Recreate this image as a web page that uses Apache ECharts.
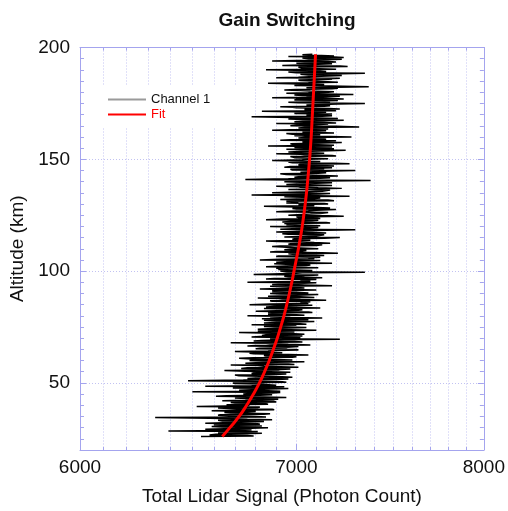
<!DOCTYPE html>
<html>
<head>
<meta charset="utf-8">
<script src="https://cdn.jsdelivr.net/npm/echarts@6/dist/echarts.min.js"></script>
<style>
  html, body { margin: 0; padding: 0; background: #fff; }
  #chart { width: 508px; height: 511px; }
</style>
</head>
<body>
<div id="chart"></div>
<script>
"use strict";

// Channel 1 photon counts, one sample every 0.25 km from 26 km,
// kept as two interleaved lists: samples on the half km and on the quarter km
var altitudeStart = 26;
var altitudeStep = 0.25;
var channel1Half = [
  6540, 6760, 6610, 6830, 6700, 6390, 6780, 6650, 6860, 6590,
  6700, 6820, 6560, 6770, 6640, 6880, 6690, 6330, 6800, 6620,
  6840, 6680, 6760, 6590, 6890, 6710, 6810, 6520, 6770, 6860,
  6700, 6900, 6640, 6830, 6760, 6950, 6610, 6820, 6740, 6880,
  6500, 6860, 6720, 6960, 6780, 6560, 6900, 6810, 6690, 6930,
  6480, 6900, 6760, 6980, 6820, 6700, 6950, 6790, 6870, 6650,
  6920, 6730, 7010, 6840, 6680, 6960, 6800, 7040, 6770, 6890,
  6720, 6980, 6850, 7060, 6790, 6930, 6700, 6900, 7000, 6820,
  6960, 6760, 7070, 6870, 6680, 6990, 6830, 7220, 6910, 6780,
  7030, 6850, 6990, 6720, 6950, 7100, 6810, 6920, 7050, 6880,
  6780, 7020, 6900, 7090, 6840, 6970, 7130, 6870, 6760, 7000,
  6900, 7080, 6800, 7010, 6950, 7120, 6850, 6990, 6770, 7060,
  7040, 6880, 7150, 6930, 6810, 7020, 6960, 7110, 6870, 7000,
  6900, 7100, 6820, 7040, 6950, 7180, 6880, 7010, 6760, 7070,
  7020, 6850, 7130, 6960, 7060, 6790, 7000, 7350, 6920, 7080,
  6930, 7110, 6850, 7050, 6980, 7180, 6900, 7040, 6820, 7090,
  7060, 6900, 7140, 6980, 7210, 6870, 7030, 6940, 7110, 6990,
  6880, 7100, 6960, 7170, 7020, 6850, 7080, 6990, 7220, 6940,
  7090, 6960, 7150, 6900, 7060, 7300, 6980, 7110, 6870, 7040,
  6990, 7170, 6930, 7080, 6850, 7120, 7010, 7240, 6960, 7070,
  7130, 6900, 7060, 7200, 6980, 7100, 6840, 7050, 7160, 6950,
  7010, 7190, 6920, 7090, 7030, 7270, 6780, 7120, 6880, 7060,
  7140, 6960, 7230, 7020, 6900, 7100, 7000, 7180, 6940, 7380,
  6750, 7120, 6990, 7210, 7040, 6920, 7150, 7020, 7300, 6970,
  7100, 6940, 7190, 7010, 7270, 6980, 7120, 6880, 7060, 7160,
  6990, 7200, 7040, 6900, 7130, 7020, 7250, 6950, 7090, 7180,
  6860, 7110, 6970, 7230, 7050, 6920, 7150, 7010, 7280, 6990,
  7120, 6950, 7200, 7040, 6880, 7160, 7010, 7320, 6970, 7090,
  6900, 7140, 7030, 7240, 6960, 7100, 6780, 7180, 7050, 6990,
  7150, 6830, 7080, 7220, 7000, 6920, 7170, 7060, 7350, 6960,
  7110, 6990, 7240, 6880, 7130, 7030, 7290, 6950, 7160, 7070,
  6940, 7180, 7050, 7370, 6990, 7140, 6860, 7210, 7080, 7010,
  7160, 6900, 7090, 7230, 7020, 7350, 6960, 7120, 6850, 7200,
  7040, 7260, 6930, 7110, 7000, 7200, 6880, 7150, 7060, 7240,
  6960, 7180, 7080
];
var channel1Quarter = [
  6790, 6580, 6740, 6620, 6810, 6690, 6560, 6780, 6640, 6830,
  6600, 6810, 6690, 6840, 6620, 6760, 6580, 6850, 6700, 6630,
  6870, 6650, 6800, 6700, 6880, 6620, 6820, 6730, 6660, 6850,
  6680, 6890, 6750, 6910, 6700, 6840, 6660, 6880, 6770, 6920,
  6920, 6720, 6870, 6690, 6940, 6780, 6900, 6700, 6950, 6760,
  6740, 6960, 6800, 6930, 6720, 6890, 6780, 6970, 6750, 6910,
  6970, 6760, 6920, 6810, 6990, 6750, 6900, 6830, 6980, 6780,
  6790, 7000, 6840, 6960, 6770, 6930, 6860, 7010, 6800, 6950,
  7010, 6800, 6960, 6850, 7030, 6790, 6940, 6870, 7020, 6820,
  6830, 7040, 6880, 6990, 6810, 6970, 6860, 7050, 6840, 7000,
  7050, 6840, 6990, 6880, 7060, 6830, 6970, 6890, 7040, 6860,
  6860, 7060, 6900, 7030, 6840, 7000, 6910, 7080, 6870, 7020,
  7070, 6870, 7020, 6910, 7090, 6860, 7000, 6920, 7060, 6880,
  6880, 7090, 6930, 7050, 6870, 7030, 6940, 7100, 6900, 7060,
  7100, 6890, 7040, 6940, 7110, 6880, 7030, 6950, 7080, 6910,
  6900, 7110, 6950, 7070, 6890, 7050, 6960, 7120, 6920, 7080,
  7120, 6910, 7060, 6960, 7130, 6900, 7050, 6970, 7100, 6930,
  6920, 7130, 6970, 7090, 6910, 7070, 6980, 7140, 6940, 7100,
  7140, 6930, 7080, 6980, 7150, 6920, 7070, 6990, 7120, 6950,
  6940, 7150, 6990, 7110, 6930, 7090, 7000, 7160, 6960, 7120,
  7160, 6950, 7100, 7000, 7170, 6940, 7090, 7010, 7140, 6970,
  6950, 7160, 7000, 7120, 6940, 7100, 7010, 7170, 6970, 7130,
  7170, 6960, 7110, 7010, 7180, 6950, 7100, 7020, 7150, 6980,
  6960, 7170, 7010, 7130, 6950, 7110, 7020, 7180, 6980, 7140,
  7180, 6970, 7120, 7020, 7190, 6960, 7110, 7030, 7160, 6990,
  6970, 7180, 7020, 7140, 6960, 7120, 7030, 7190, 6990, 7150,
  7190, 6980, 7130, 7030, 7200, 6970, 7120, 7040, 7170, 7000,
  6980, 7190, 7030, 7150, 6970, 7130, 7040, 7200, 7000, 7160,
  7200, 6990, 7140, 7040, 7210, 6980, 7130, 7050, 7180, 7010,
  6990, 7200, 7040, 7160, 6980, 7140, 7050, 7210, 7010, 7170,
  7210, 7000, 7150, 7050, 7220, 6990, 7140, 7060, 7190, 7020,
  7000, 7210, 7050, 7170, 6990, 7150, 7060, 7220, 7020, 7180,
  7220, 7010, 7160, 7060, 7230, 7000, 7150, 7070, 7200, 7030,
  7010, 7220, 7060, 7180, 7000, 7160, 7070, 7230, 7030, 7190,
  7190, 7030
];

// Fit curve
var fitAltitude = [26, 30, 35, 40, 45, 50, 55, 60, 65, 70, 75, 80, 85, 90, 95,
  100, 105, 110, 115, 120, 130, 140, 150, 160, 170, 180, 190, 197];
var fitSignal = [6640, 6676, 6720, 6756, 6789, 6818, 6843, 6866, 6886, 6905, 6922,
  6938, 6952, 6965, 6977, 6988, 6999, 7010, 7020, 7029, 7044, 7056, 7066, 7074,
  7080, 7086, 7092, 7096];

// ticks
var xMajorTicks = [6000, 7000, 8000];
var xMinorTicks = [6100, 6200, 6300, 6400, 6500, 6600, 6700, 6800, 6900, 7000,
  7100, 7200, 7300, 7400, 7500, 7600, 7700, 7800, 7900];
var yMajorTicks = [50, 100, 150, 200];
var yMinorTicks = [20, 25, 30, 35, 40, 45, 55, 60, 65, 70, 75, 80, 85, 90, 95,
  105, 110, 115, 120, 125, 130, 135, 140, 145, 155, 160, 165, 170, 175, 180,
  185, 190, 195];

var font = "Liberation Sans, Arial, Helvetica, sans-serif";
var frameBlue = "#a4a4ee";
var gridBlue = "#c2c2f2";

// merge the two lists in altitude order
var channelData = [];
channel1Half.forEach(function (v, i) {
  channelData.push([v, altitudeStart + 2 * i * altitudeStep]);
  if (i < channel1Quarter.length) {
    channelData.push([channel1Quarter[i], altitudeStart + (2 * i + 1) * altitudeStep]);
  }
});
var fitData = fitSignal.map(function (v, i) {
  return [v, fitAltitude[i]];
});

function plain(v) {
  return String(v);
}

function xAxisOf(pos, ticks, len, showLine, showLabel, showSplit) {
  return {
    type: "log",
    logBase: 10,
    min: 6000,
    max: 8000,
    position: pos,
    axisLine: { show: showLine, onZero: false, lineStyle: { color: frameBlue, width: 1 } },
    axisTick: { show: true, inside: true, length: len, customValues: ticks, lineStyle: { color: frameBlue } },
    axisLabel: {
      show: showLabel, customValues: xMajorTicks, margin: 8, formatter: plain,
      color: "#111", fontSize: 19, fontFamily: font
    },
    splitLine: { show: showSplit, lineStyle: { color: gridBlue, type: [1, 2], width: 1 } },
    minorTick: { show: false },
  };
}

function yAxisOf(pos, ticks, len, showLine, showLabel, showSplit) {
  return {
    type: "value",
    min: 20,
    max: 200,
    position: pos,
    axisLine: { show: showLine, onZero: false, lineStyle: { color: frameBlue, width: 1 } },
    axisTick: { show: true, inside: true, length: len, customValues: ticks, lineStyle: { color: frameBlue } },
    axisLabel: {
      show: showLabel, customValues: yMajorTicks, margin: 10, formatter: plain,
      color: "#111", fontSize: 19, fontFamily: font
    },
    splitLine: { show: showSplit, lineStyle: { color: gridBlue, type: [1, 2], width: 1 } },
  };
}

var xBottom = xAxisOf("bottom", xMajorTicks, 6, true, true, false);
xBottom.name = "Total Lidar Signal (Photon Count)";
xBottom.nameLocation = "middle";
xBottom.nameGap = 37;
xBottom.nameTextStyle = { fontSize: 19, color: "#111", fontFamily: font };

var yLeft = yAxisOf("left", yMajorTicks, 6, true, true, true);
yLeft.name = "Altitude (km)";
yLeft.nameLocation = "middle";
yLeft.nameGap = 38;
yLeft.nameTextStyle = { fontSize: 19, color: "#111", fontFamily: font };

var chartDom = document.getElementById("chart");
var myChart = echarts.init(chartDom);
var option = {
  animation: false,
  backgroundColor: "#fff",
  title: {
    text: "Gain Switching",
    left: 282,
    textAlign: "center",
    top: 6,
    textStyle: { fontSize: 19, fontWeight: "bold", color: "#111", fontFamily: font },
  },
  legend: {
    orient: "vertical",
    left: 100,
    top: 85,
    backgroundColor: "#fff",
    padding: [8, 30, 6, 8],
    icon: "rect",
    itemWidth: 38,
    itemHeight: 2,
    itemGap: 2,
    textStyle: { fontSize: 13, color: "#111", fontFamily: font },
    data: [
      { name: "Channel 1", itemStyle: { color: "#9a9a9a" } },
      { name: "Fit", textStyle: { color: "#ff0000" }, itemStyle: { color: "#ff0000" } },
    ],
  },
  grid: { left: 80, right: 24, top: 47.5, bottom: 58.5 },
  xAxis: [
    xBottom,
    xAxisOf("bottom", xMinorTicks, 3, false, false, true),
    xAxisOf("top", xMajorTicks, 6, true, false, false),
    xAxisOf("top", xMinorTicks, 3, false, false, false),
  ],
  yAxis: [
    yLeft,
    yAxisOf("left", yMinorTicks, 4, false, false, false),
    yAxisOf("right", yMajorTicks, 6, true, false, false),
    yAxisOf("right", yMinorTicks, 4, false, false, false),
  ],
  series: [
    {
      name: "Channel 1",
      type: "line",
      data: channelData,
      symbol: "none",
      showSymbol: false,
      silent: true,
      lineStyle: { color: "#000", width: 1.5 },
      itemStyle: { color: "#000" },
    },
    {
      name: "Fit",
      type: "line",
      data: fitData,
      smooth: true,
      symbol: "none",
      showSymbol: false,
      silent: true,
      z: 5,
      lineStyle: { color: "#ff0000", width: 3 },
      itemStyle: { color: "#ff0000" },
    },
  ],
};

option && myChart.setOption(option);
window.onresize = function () {
  myChart.resize();
};
</script>
</body>
</html>
